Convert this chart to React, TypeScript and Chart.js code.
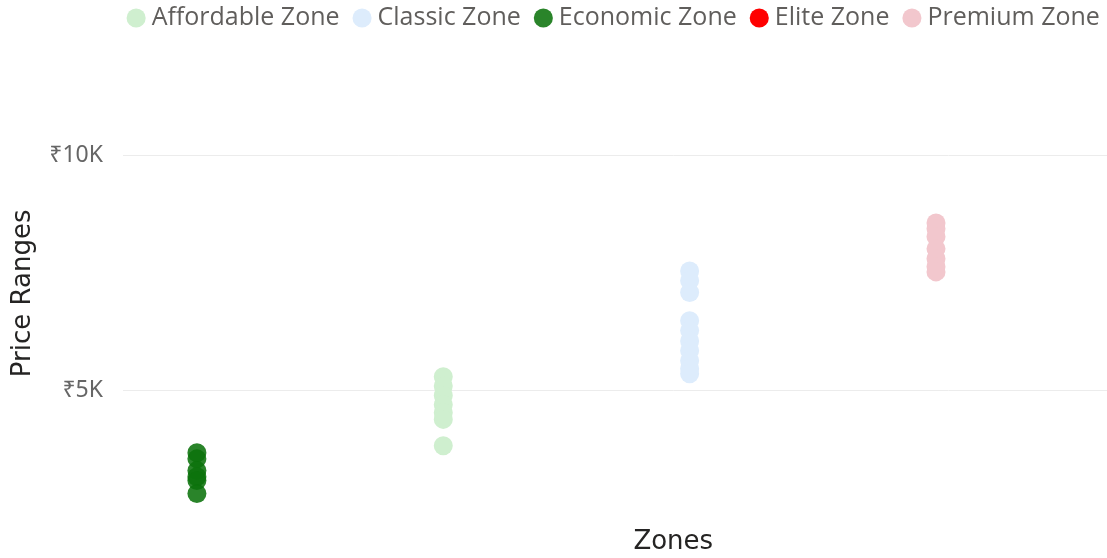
import React, { useEffect, useRef } from "react";
import { Chart, registerables } from "chart.js";

Chart.register(...registerables);

const zoneNames = ["Affordable Zone", "Classic Zone", "Economic Zone", "Elite Zone", "Premium Zone"];
const zoneColors = ["#cfefcf", "#ddecfc", "rgba(12,115,12,0.88)", "#ff0000", "#f2c7cd"];
// position of each zone along the x axis (Economic, Affordable, Classic, Premium, Elite)
const zoneIndex = [1, 2, 0, 4, 3];

const affordablePrices = [5300, 5100, 4900, 4700, 4530, 4390, 3830];
const classicPrices = [7550, 7340, 7090, 6490, 6280, 6060, 5850, 5640, 5470, 5360];
const economicPrices = [3680, 3550, 3300, 3170, 3090, 2810];
const elitePrices: number[] = [];
const premiumPrices = [8570, 8450, 8280, 8020, 7810, 7640, 7530];

const yTicks = [5000, 10000];

export default function App() {
  const ref = useRef<HTMLCanvasElement>(null);
  useEffect(() => {
    const series = [affordablePrices, classicPrices, economicPrices, elitePrices, premiumPrices];
    const datasets = series.map((vals, i) => ({
      label: zoneNames[i],
      data: vals.map((v) => ({ x: zoneIndex[i], y: v })),
      backgroundColor: zoneColors[i],
      borderColor: zoneColors[i],
      borderWidth: 0,
      pointRadius: 9.5,
      pointHoverRadius: 9.5,
    }));
    const chart = new Chart(ref.current!, {
      type: "scatter",
      data: { datasets },
      options: {
        animation: false,
        responsive: false,
        layout: { padding: { top: -14, left: 0, right: 0, bottom: 0 } },
        plugins: {
          tooltip: { enabled: false },
          legend: {
            position: "top",
            align: "center",
            labels: {
              usePointStyle: true,
              pointStyle: "circle",
              boxWidth: 6,
              boxHeight: 13.5,
              padding: 19.5,
              color: "#605e5c",
              font: { family: "'Open Sans', 'Noto Sans', sans-serif", size: 25 },
            },
          },
          title: {
            display: true,
            text: "",
            weight: 500,
            position: "top",
            font: { size: 10, lineHeight: 1 },
            padding: { top: 0, bottom: 12 },
          } as any,
        },
        scales: {
          x: {
            type: "linear",
            min: -0.3,
            max: 4.167,
            grid: { display: false },
            border: { display: false },
            ticks: { display: false },
            title: {
              display: true,
              text: "Zones",
              color: "#252423",
              font: { family: "'DejaVu Sans', sans-serif", size: 26 },
              padding: { top: 0, bottom: -6 },
            },
            afterFit: (s: any) => {
              s.height = 28;
            },
          },
          y: {
            type: "linear",
            min: 2159,
            max: 11987,
            afterBuildTicks: (s: any) => {
              s.ticks = yTicks.map((v) => ({ value: v }));
            },
            afterFit: (s: any) => {
              s.width = 123;
            },
            grid: { color: "#ececec", drawTicks: false, lineWidth: 1 },
            border: { display: false },
            ticks: {
              padding: 20,
              color: "#666666",
              font: { family: "'Noto Sans', 'DejaVu Sans', sans-serif", size: 23 },
              callback: (v: any) => "₹" + Number(v) / 1000 + "K",
            },
            title: {
              display: true,
              text: "Price Ranges",
              color: "#252423",
              font: { family: "'DejaVu Sans', sans-serif", size: 26 },
              padding: { top: 8, bottom: 0 },
            },
          },
        },
      },
    });
    return () => chart.destroy();
  }, []);
  return (
    <div
      style={{
        position: "absolute",
        left: 0,
        top: 0,
        width: 1107,
        height: 558,
        overflow: "hidden",
        background: "#fff",
      }}
    >
      <canvas ref={ref} width={1233} height={558} style={{ width: 1233, height: 558, display: "block" }} />
    </div>
  );
}
